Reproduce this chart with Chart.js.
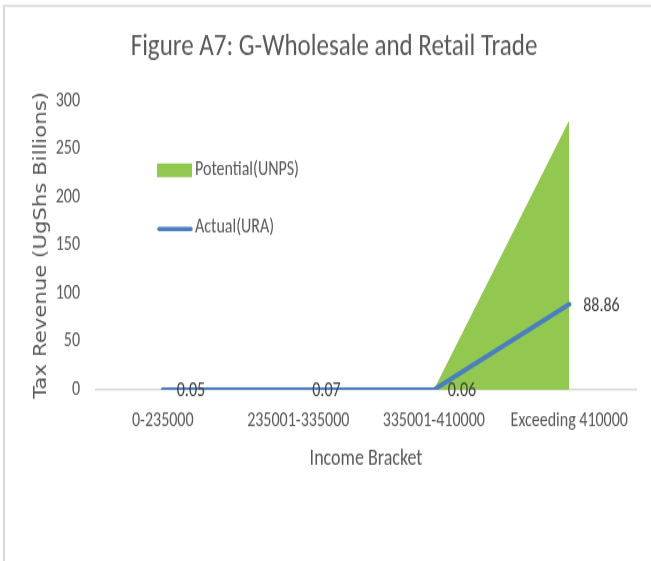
<!DOCTYPE html>
<html>
<head>
<meta charset="utf-8">
<script src="https://cdn.jsdelivr.net/npm/chart.js@4/dist/chart.umd.min.js"></script>
<style>
  html, body { margin: 0; padding: 0; background: #ffffff; width: 651px; height: 561px; }
  #wrap { width: 651px; height: 449px; transform: scaleY(1.2494); transform-origin: 0 0; }
</style>
</head>
<body>
<div id="wrap"><canvas id="c" width="651" height="449"></canvas></div>
<script>
const categories = ["0-235000", "235001-335000", "335001-410000", "Exceeding 410000"];
const potentialUNPS = [0, 0, 0, 280];
const actualURA = [0.05, 0.07, 0.06, 88.86];
const yTicks = [0, 50, 100, 150, 200, 250, 300];

const FONT = 'Carlito, "Liberation Sans Narrow", "Liberation Sans", sans-serif';
const GREY = '#595959';
const GREEN = '#92c850';
const BLUE = '#4a7ebf';

const frame = {
  id: 'frame',
  beforeDraw(chart) {
    const ctx = chart.ctx;
    ctx.save();
    ctx.fillStyle = '#ffffff';
    ctx.fillRect(0, 0, chart.width, chart.height);
    ctx.strokeStyle = '#d9d9d9';
    ctx.lineWidth = 2;
    ctx.beginPath();
    ctx.moveTo(4, chart.height);
    ctx.lineTo(4, 4.6);
    ctx.stroke();
    ctx.lineWidth = 1.6;
    ctx.beginPath();
    ctx.moveTo(3, 4.6);
    ctx.lineTo(chart.width, 4.6);
    ctx.stroke();
    ctx.restore();
  }
};

const valueLabels = {
  id: 'valueLabels',
  afterDatasetsDraw(chart) {
    const ctx = chart.ctx;
    const meta = chart.getDatasetMeta(0);
    const ds = chart.data.datasets[0];
    ctx.save();
    ctx.font = '16px ' + FONT;
    ctx.fillStyle = '#404040';
    ctx.textAlign = 'left';
    ctx.textBaseline = 'middle';
    meta.data.forEach((pt, i) => {
      ctx.fillText(String(ds.data[i]), pt.x + 14, pt.y + 1);
    });
    ctx.restore();
  }
};

const innerLegend = {
  id: 'innerLegend',
  afterDraw(chart) {
    const ctx = chart.ctx;
    const a = chart.chartArea;
    const x0 = a.left + 62;
    ctx.save();
    ctx.font = '16px ' + FONT;
    ctx.textAlign = 'left';
    ctx.textBaseline = 'middle';
    const areaDs = chart.data.datasets[1];
    ctx.fillStyle = areaDs.backgroundColor;
    ctx.fillRect(x0, a.top + 50, 35, 11);
    ctx.fillStyle = GREY;
    ctx.fillText(areaDs.label, x0 + 38, a.top + 55.5);
    const lineDs = chart.data.datasets[0];
    ctx.strokeStyle = lineDs.borderColor;
    ctx.lineWidth = 3.4;
    ctx.lineCap = 'round';
    ctx.beginPath();
    ctx.moveTo(x0 + 2, a.top + 102.5);
    ctx.lineTo(x0 + 34, a.top + 102.5);
    ctx.stroke();
    ctx.fillStyle = GREY;
    ctx.fillText(lineDs.label, x0 + 38, a.top + 101);
    ctx.restore();
  }
};

new Chart(document.getElementById('c'), {
  type: 'line',
  data: {
    labels: categories,
    datasets: [
      {
        label: 'Actual(URA)',
        data: actualURA,
        borderColor: BLUE,
        backgroundColor: BLUE,
        borderWidth: 4,
        borderCapStyle: 'round',
        pointRadius: 0,
        tension: 0,
        fill: false,
        order: 0
      },
      {
        label: 'Potential(UNPS)',
        data: potentialUNPS,
        borderColor: GREEN,
        backgroundColor: GREEN,
        borderWidth: 0,
        pointRadius: 0,
        tension: 0,
        fill: 'origin',
        order: 1
      }
    ]
  },
  options: {
    responsive: false,
    animation: false,
    devicePixelRatio: 1,
    layout: { padding: { left: 31, right: 14, top: 0, bottom: 71 } },
    plugins: {
      legend: { display: false },
      tooltip: { enabled: false },
      title: {
        display: true,
        text: 'Figure A7: G-Wholesale and Retail Trade',
        color: GREY,
        font: { family: FONT, size: 25, weight: 'normal', lineHeight: 1.2 },
        padding: { top: 22.6, bottom: 28.2 }
      }
    },
    scales: {
      x: {
        offset: true,
        grid: { display: false, drawTicks: false },
        border: { display: false },
        ticks: { color: GREY, font: { family: FONT, size: 16 }, padding: 15, maxRotation: 0, autoSkip: false },
        title: {
          display: true,
          text: 'Income Bracket',
          color: GREY,
          font: { family: FONT, size: 18 },
          padding: { top: 10, bottom: 0 }
        },
        afterFit(scale) { scale.height = 66; }
      },
      y: {
        min: 0,
        max: 300,
        afterBuildTicks(scale) { scale.ticks = yTicks.map(v => ({ value: v })); },
        grid: {
          drawTicks: false,
          color: ctx => (ctx.tick && ctx.tick.value === 0 ? '#d9d9d9' : 'rgba(0,0,0,0)'),
          lineWidth: 1.6
        },
        border: { display: false },
        ticks: { color: GREY, font: { family: FONT, size: 16 }, padding: 15 },
        title: {
          display: true,
          text: 'Tax Revenue (UgShs Billions)',
          color: GREY,
          font: { family: '"DejaVu Sans", Verdana, sans-serif', size: 17 },
          padding: { top: 0, bottom: 0 }
        },
        afterFit(scale) { scale.width = 64; }
      }
    }
  },
  plugins: [frame, valueLabels, innerLegend]
});
</script>
</body>
</html>
